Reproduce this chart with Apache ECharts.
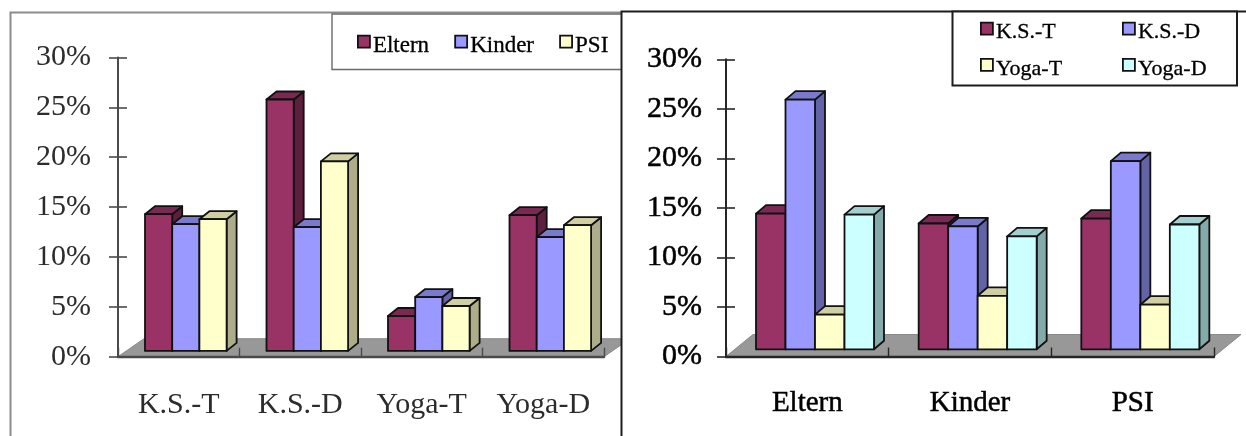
<!DOCTYPE html>
<html>
<head>
<meta charset="utf-8">
<style>
  html, body { margin: 0; padding: 0; background: #fff; }
  #chart { width: 1246px; height: 436px; }
</style>
<script src="https://cdn.jsdelivr.net/npm/echarts@6/dist/echarts.min.js"></script>
</head>
<body>
<div id="chart"></div>
<script>
// Share of responses (%) per measure, for each group
const groups = ['Eltern', 'Kinder', 'PSI'];
const measures = ['K.S.-T', 'K.S.-D', 'Yoga-T', 'Yoga-D'];
const ksT = [13.7, 12.7, 13.2];
const ksD = [25.2, 12.4, 19.0];
const yogaT = [3.5, 5.4, 4.5];
const yogaD = [13.6, 11.4, 12.6];
const yTicks = [0, 30, 5];

const byMeasure = [ksT, ksD, yogaT, yogaD];

// Fill colours: front face, top face, side face
const shades = {
  wine:  ['#993366', '#7a2952', '#5c1f3d'],
  blue:  ['#9999ff', '#7a7acc', '#6363a8'],
  cream: ['#ffffcc', '#cfcfa3', '#adad8a'],
  aqua:  ['#ccffff', '#a3cfcf', '#85aaaa']
};

// Each panel is a pseudo-3D column chart on its own grid
const FONT = '"Liberation Serif", "Times New Roman", serif';
const panels = [
  { grid: { left: 118, top: 57.4, width: 486, height: 299.3 }, xi: 0, yi: 0,
    z: 2, ink: '#2c2c2c', axis: '#4a4a4a', barW: 27.2, lead: 27, baseLift: 5.8, heavy: 0,
    sideX: 10, sideY: 8, floorX: 26, floorY: 18, labelMargin: 27, catMargin: 33, catSize: 30 },
  { grid: { left: 726, top: 59.3, width: 488, height: 297.2 }, xi: 1, yi: 2,
    z: 5, ink: '#000', axis: '#262626', barW: 29.5, lead: 30, baseLift: 7.2, heavy: 0.5,
    sideX: 10, sideY: 8.5, floorX: 27, floorY: 22, labelMargin: 24, catMargin: 32, catSize: 29 }
];

function poly(points, fill, stroke, lineWidth) {
  return { type: 'polygon', shape: { points },
    style: { fill, stroke: stroke || fill, lineWidth: lineWidth === undefined ? 1.8 : lineWidth, lineJoin: 'round' } };
}

// Column with a front, top and side face; height comes from the value axis
function columnSeries(panel, name, slot, shade, values) {
  return {
    type: 'custom', name, xAxisIndex: panel.xi, yAxisIndex: panel.yi, z: panel.z,
    coordinateSystem: 'cartesian2d', silent: true, clip: false,
    itemStyle: { color: shade[0] },
    encode: { x: 0, y: 1 },
    data: values.map((v, i) => [i, v]),
    renderItem(params, api) {
      const band = api.size([1, 0])[0];
      const top = api.coord([api.value(0), api.value(1)]);
      const floor = api.coord([api.value(0), 0]);
      const x0 = top[0] - band / 2 + panel.lead + slot * panel.barW;
      const x1 = x0 + panel.barW;
      const yT = top[1] - panel.baseLift;
      const yB = floor[1] - panel.baseLift;
      const dx = panel.sideX, dy = panel.sideY;
      return { type: 'group', children: [
        poly([[x1, yB], [x1 + dx, yB - dy], [x1 + dx, yT - dy], [x1, yT]], shade[2], '#111'),
        poly([[x0, yT], [x0 + dx, yT - dy], [x1 + dx, yT - dy], [x1, yT]], shade[1], '#111'),
        poly([[x0, yB], [x1, yB], [x1, yT], [x0, yT]], shade[0], '#111')
      ] };
    }
  };
}

// Grey floor plane behind the columns
function floorSeries(panel) {
  return {
    type: 'custom', xAxisIndex: panel.xi, yAxisIndex: panel.yi, z: panel.z - 0.5,
    coordinateSystem: 'cartesian2d', silent: true, clip: false,
    encode: { x: 0, y: 1 }, data: [[0, 0]],
    renderItem(params, api) {
      const cs = params.coordSys;
      const y0 = api.coord([0, 0])[1];
      const dx = panel.floorX, dy = panel.floorY;
      return poly([[cs.x, y0], [cs.x + cs.width, y0], [cs.x + cs.width + dx, y0 - dy], [cs.x + dx, y0 - dy]],
        '#989898', '#8a8a8a', 1);
    }
  };
}

function inkStyle(p) {
  return { fontFamily: FONT, color: p.ink, textBorderColor: p.ink, textBorderWidth: p.heavy };
}

const xAxes = panels.map((p, i) => ({
  type: 'category', gridIndex: i, data: i === 0 ? measures : groups, z: p.z + 0.8,
  axisLine: { show: true, onZero: false, lineStyle: { color: p.axis, width: 2.4 } },
  axisTick: { show: true, inside: true, length: 9, lineStyle: { color: p.axis, width: 1.4 } },
  axisLabel: { ...inkStyle(p), fontSize: p.catSize, margin: p.catMargin, interval: 0 }
}));

// Each value axis has a twin so its tick marks straddle the line
const yAxes = [];
panels.forEach((p, i) => {
  const scale = { type: 'value', gridIndex: i, min: yTicks[0], max: yTicks[1], interval: yTicks[2],
    splitLine: { show: false }, position: 'left', offset: 0, z: p.z + 0.8 };
  yAxes.push({ ...scale,
    axisLine: { show: true, lineStyle: { color: p.axis, width: 2 } },
    axisTick: { show: true, length: 9, lineStyle: { color: p.axis, width: 1.6 } },
    axisLabel: { ...inkStyle(p), fontSize: 30, margin: p.labelMargin, formatter: '{value}%' } });
  yAxes.push({ ...scale,
    axisLine: { show: false }, axisLabel: { show: false },
    axisTick: { show: true, inside: true, length: 9, lineStyle: { color: p.axis, width: 1.6 } } });
});

const leftShades = [shades.wine, shades.blue, shades.cream];
const rightShades = [shades.wine, shades.blue, shades.cream, shades.aqua];

const series = [
  floorSeries(panels[0]),
  ...groups.map((g, s) => columnSeries(panels[0], g, s, leftShades[s], byMeasure.map(m => m[s]))),
  floorSeries(panels[1]),
  ...measures.map((m, s) => columnSeries(panels[1], m, s, rightShades[s], byMeasure[s]))
];

// Legend labels sit a little below their swatches
function legend(names, left, top, size, gap, orient, lift) {
  return {
    data: names, left, top, orient, z: 9, padding: 0, itemGap: gap,
    itemWidth: 12, itemHeight: 12, icon: 'rect', selectedMode: false,
    itemStyle: { borderColor: '#111', borderWidth: 1.8 },
    formatter: '{t|{name}}',
    textStyle: { fontFamily: FONT, fontSize: size, color: '#000',
      rich: { t: { fontFamily: FONT, fontSize: size, color: '#000', padding: [lift, 0, 0, -2],
        textBorderColor: '#000', textBorderWidth: 0.3 } } }
  };
}

const option = {
  animation: false,
  backgroundColor: '#fff',
  grid: panels.map(p => ({ ...p.grid, containLabel: false })),
  xAxis: xAxes,
  yAxis: yAxes,
  series,
  legend: [
    legend(groups, 357, 34, 23, 25, 'horizontal', 8),
    legend([measures[0], measures[2]], 980, 21.5, 22, 14, 'vertical', 8),
    legend([measures[1], measures[3]], 1122, 21.5, 22, 14, 'vertical', 8)
  ],
  graphic: { elements: [
    // Outer frame of the left panel
    { type: 'polyline', z: 3, silent: true, shape: { points: [[10.5, 436], [10.5, 12.5], [621, 12.5]] },
      style: { stroke: '#8c8c8c', lineWidth: 2, fill: null } },
    { type: 'rect', z: 3, silent: true, shape: { x: 332, y: 14, width: 290, height: 55.5 },
      style: { fill: '#fff', stroke: '#6a6a6a', lineWidth: 1.4 } },
    // Right panel sits over the left one
    { type: 'rect', z: 4, silent: true, shape: { x: 621.5, y: 0, width: 625, height: 436 },
      style: { fill: '#fff', stroke: null } },
    { type: 'polyline', z: 8, silent: true, shape: { points: [[621.5, 436], [621.5, 11.5], [1246, 11.5]] },
      style: { stroke: '#1c1c1c', lineWidth: 2, fill: null } },
    { type: 'rect', z: 8, silent: true, shape: { x: 952.5, y: 11.5, width: 284.5, height: 74 },
      style: { fill: '#fff', stroke: '#1c1c1c', lineWidth: 2 } }
  ] }
};

echarts.init(document.getElementById('chart'), null, { renderer: 'canvas' }).setOption(option);
</script>
</body>
</html>
